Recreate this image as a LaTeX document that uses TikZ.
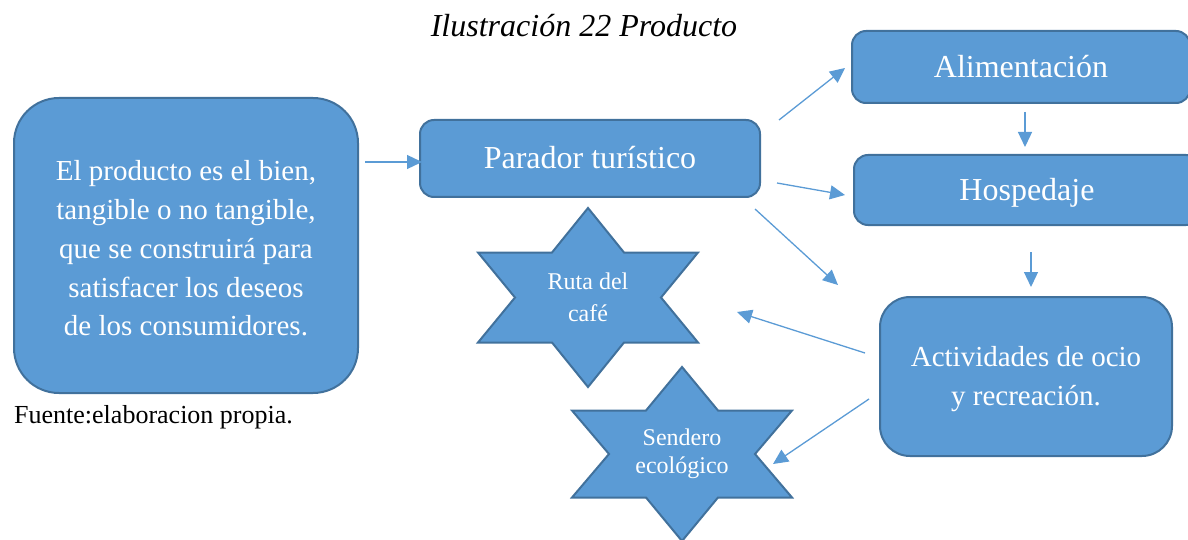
\documentclass[tikz,border=0pt]{standalone}
\usepackage{fontspec}
\setmainfont{Liberation Serif}
\usetikzlibrary{arrows.meta}
\definecolor{boxfill}{HTML}{5B9BD5}
\definecolor{boxline}{HTML}{41719C}
\tikzset{
  box/.style={draw=boxline, line width=2pt, fill=boxfill, text=white, inner sep=0pt},
  onebox/.style={box, rounded corners=14pt, font=\fontsize{32}{38}\selectfont, text height=24pt, text depth=3pt},
  multibox/.style={box, align=center, font=\fontsize{29}{38.8}\selectfont},
  startxt/.style={text=white, align=center, inner sep=0pt},
  starshape/.style={draw=boxline, line width=2pt, fill=boxfill, line join=miter},
  conn/.style={draw=boxfill, line width=1.3pt, -{Triangle[length=15pt,width=14pt]}}
}
\begin{document}
\begin{tikzpicture}[x=1pt,y=-1pt]
\useasboundingbox (0,0) rectangle (1188,540);

% title
\node[font=\fontsize{32}{38}\selectfont\itshape, anchor=base, inner sep=0pt] (title) at (584,37) {Ilustración 22 Producto};

% boxes
\node[multibox, rounded corners=45pt, minimum width=344pt, minimum height=295pt] (prod) at (186,245.5) {};
\node[multibox, draw=none, fill=none] (prodtxt) at (186,248.5)
  {El producto es el bien,\\tangible o no tangible,\\que se construirá para\\satisfacer los deseos\\de los consumidores.};
\node[onebox, minimum width=340pt, minimum height=77pt] (parador) at (590,158.5) {Parador turístico};
\node[onebox, minimum width=338pt, minimum height=72pt] (alim) at (1021,67) {Alimentación};
\node[onebox, minimum width=346pt, minimum height=70pt] (hosp) at (1027,190) {Hospedaje};
\node[multibox, rounded corners=30pt, minimum width=292pt, minimum height=159pt] (activ) at (1026,376.5) {};
\node[multibox, draw=none, fill=none] (activtxt) at (1026,379)
  {Actividades de ocio\\y recreación.};

\node[font=\fontsize{26}{30}\selectfont, anchor=base west, inner sep=0pt] (fuente) at (14,423) {Fuente:elaboracion propia.};

% stars
\coordinate (s1) at (588,297.5);
\draw[starshape] (s1) ++(0,-89.5) -- ++(36,44.5) -- ++(74,0) -- ++(-37,45) -- ++(37,45) -- ++(-74,0)
  -- ++(-36,44.5) -- ++(-36,-44.5) -- ++(-74,0) -- ++(37,-45) -- ++(-37,-45) -- ++(74,0) -- cycle;
\node[startxt, font=\fontsize{24}{32}\selectfont] (ruta) at (588,297) {Ruta del\\café};

\coordinate (s2) at (682,454);
\draw[starshape] (s2) ++(0,-87) -- ++(36,43.5) -- ++(74,0) -- ++(-37,43.5) -- ++(37,43.5) -- ++(-74,0)
  -- ++(-36,43.5) -- ++(-36,-43.5) -- ++(-74,0) -- ++(37,-43.5) -- ++(-37,-43.5) -- ++(74,0) -- cycle;
\node[startxt, font=\fontsize{24}{28}\selectfont] (sendero) at (682,454) {Sendero\\ecológico};

% connector end points
\coordinate (a1s) at (365,162);   \coordinate (a1e) at (422,162);
\coordinate (a2s) at (779,120);   \coordinate (a2e) at (845,68);
\coordinate (a3s) at (777,183);   \coordinate (a3e) at (845,195);
\coordinate (a4s) at (755,209);   \coordinate (a4e) at (838,285);
\coordinate (a5s) at (1025,112);  \coordinate (a5e) at (1025,147);
\coordinate (a6s) at (1031,252);  \coordinate (a6e) at (1031,287);
\coordinate (a7s) at (865,353);   \coordinate (a7e) at (737,312);
\coordinate (a8s) at (869,399);   \coordinate (a8e) at (773,464);

\draw[conn] (a1s) -- (a1e);
\draw[conn] (a2s) -- (a2e);
\draw[conn] (a3s) -- (a3e);
\draw[conn] (a4s) -- (a4e);
\draw[conn] (a5s) -- (a5e);
\draw[conn] (a6s) -- (a6e);
\draw[conn] (a7s) -- (a7e);
\draw[conn] (a8s) -- (a8e);
\end{tikzpicture}
\end{document}
